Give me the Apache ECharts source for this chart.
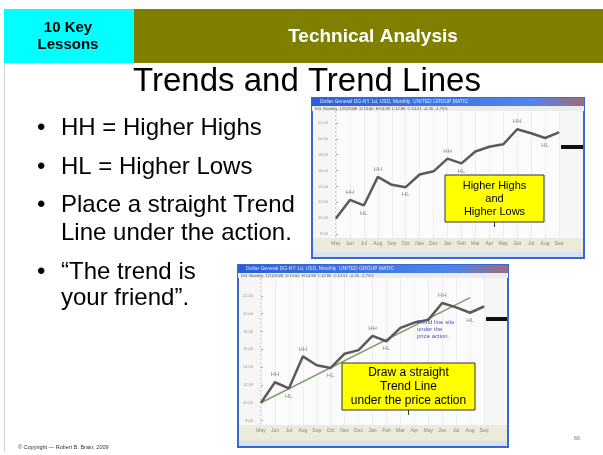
<!DOCTYPE html>
<html>
<head>
<meta charset="utf-8">
<script src="https://cdn.jsdelivr.net/npm/echarts@6/dist/echarts.min.js"></script>
<style>
  html, body { margin: 0; padding: 0; background: #fff; }
  #slide { width: 603px; height: 455px; }
</style>
</head>
<body>
<div id="slide"></div>
<script>
  // months along the bottom of both screenshots
  var months = ['May', 'Jun', 'Jul', 'Aug', 'Sep', 'Oct', 'Nov', 'Dec', 'Jan', 'Feb', 'Mar', 'Apr', 'May', 'Jun', 'Jul', 'Aug', 'Sep'];
  // monthly closes (same data in both windows)
  var closes = [10.0, 12.3, 11.6, 15.2, 14.2, 13.9, 15.5, 15.9, 17.5, 16.9, 18.4, 19.0, 19.3, 21.2, 20.7, 20.1, 20.8];
  // swing labels on the highs / lows
  var swingLabels = ['', 'HH', 'HL', 'HH', '', 'HL', '', '', 'HH', 'HL', '', '', '', 'HH', '', 'HL', ''];
  // trend line drawn under the lows (two anchor points)
  var trendLine = [10.0, null, null, null, null, null, null, null, null, null, null, null, null, null, null, 21.8, null];

  var chart = echarts.init(document.getElementById('slide'), null, { renderer: 'canvas' });

  function lineData() {
    return closes.map(function (v, i) {
      var lab = swingLabels[i];
      return {
        value: v,
        label: {
          show: lab !== '',
          formatter: lab,
          position: lab === 'HL' ? 'bottom' : 'top',
          distance: 4,
          color: '#8a8a8a',
          fontSize: 6,
          fontFamily: 'Arial'
        }
      };
    });
  }

  // window chrome of a pasted screenshot
  function windowChrome(x, y, w, h, plotL, plotR, plotB, curY) {
    return [
      { type: 'rect', z: 0, shape: { x: x, y: y, width: w, height: h }, style: { fill: '#fbfbfb', stroke: '#3a68d0', lineWidth: 2 } },
      { type: 'rect', z: 1, shape: { x: x, y: y, width: w, height: 8 },
        style: { fill: new echarts.graphic.LinearGradient(0, 0, 1, 0, [{ offset: 0, color: '#2a5ed8' }, { offset: 0.8, color: '#4f86ec' }, { offset: 1, color: '#a06a7a' }]) } },
      { type: 'text', z: 2, style: { x: x + 8, y: y + 4, text: 'Dollar General DG-NY 1d, USD, Monthly  UNITED GROUP MATIC', fontSize: 5, fill: '#dfe8ff', verticalAlign: 'middle', fontFamily: 'Arial' } },
      { type: 'rect', z: 1, shape: { x: x, y: y + 8, width: w, height: 5 }, style: { fill: '#ececec' } },
      { type: 'text', z: 2, style: { x: x + 3, y: y + 10.5, text: 'DG  Monthly  12/1/2008  D:13.60  H:14.98  L:12.86  C:14.51  -0.26  -1.75%', fontSize: 4, fill: '#555', verticalAlign: 'middle', fontFamily: 'Arial' } },
      { type: 'rect', z: 1, shape: { x: x + 1, y: y + 13, width: plotL - x - 1, height: plotB - y - 13 }, style: { fill: '#f6f6f6' } },
      { type: 'rect', z: 1, shape: { x: plotR, y: y + 13, width: x + w - plotR - 1, height: plotB - y - 13 }, style: { fill: '#f6f6f6' } },
      { type: 'line', z: 2, shape: { x1: plotL, y1: y + 13, x2: plotL, y2: plotB }, style: { stroke: '#d9a0b0', lineWidth: 1, lineDash: [2, 2] } },
      { type: 'rect', z: 1, shape: { x: x + 1, y: plotB, width: w - 2, height: y + h - plotB - 6 }, style: { fill: '#ecead8' } },
      { type: 'rect', z: 1, shape: { x: x + 1, y: y + h - 6, width: w - 2, height: 5 }, style: { fill: '#d8e0f4' } },
      { type: 'rect', z: 2, shape: { x: plotR + 1, y: curY - 2, width: x + w - plotR - 2, height: 4 }, style: { fill: '#111' } }
    ];
  }

  function callout(x, y, w, h, lines, fs) {
    return [
      { type: 'rect', z: 20, shape: { x: x, y: y, width: w, height: h }, style: { fill: '#ffff00', stroke: '#333', lineWidth: 1 } },
      { type: 'line', z: 20, shape: { x1: x + w / 2, y1: y + h, x2: x + w / 2, y2: y + h + 5 }, style: { stroke: '#333', lineWidth: 1 } },
      { type: 'text', z: 21, style: { x: x + w / 2, y: y + h / 2, text: lines.join('\n'), fontSize: fs, lineHeight: fs + 2, fill: '#000', align: 'center', verticalAlign: 'middle', fontFamily: 'Arial' } }
    ];
  }

  var bullets = [
    { y: 128, text: 'HH = Higher Highs' },
    { y: 167, text: 'HL = Higher Lows' },
    { y: 205, text: 'Place a straight Trend' },
    { y: 233, text: 'Line under the action.', noDot: true },
    { y: 272, text: '\u201cThe trend is' },
    { y: 298, text: 'your friend\u201d.', noDot: true }
  ];

  var graphics = [
    { type: 'line', shape: { x1: 4.5, y1: 9, x2: 4.5, y2: 452 }, style: { stroke: '#cfcfcf', lineWidth: 1 } },
    { type: 'rect', shape: { x: 4, y: 9, width: 130, height: 54 }, style: { fill: '#00ffff' } },
    { type: 'rect', shape: { x: 134, y: 9, width: 469, height: 54 }, style: { fill: '#808000' } },
    { type: 'text', style: { x: 68, y: 36, text: '10 Key\nLessons', fontSize: 15, lineHeight: 17, fontWeight: 'bold', fill: '#000', align: 'center', verticalAlign: 'middle', fontFamily: 'Arial' } },
    { type: 'text', style: { x: 373, y: 37, text: 'Technical Analysis', fontSize: 19, fontWeight: 'bold', fill: '#fff', align: 'center', verticalAlign: 'middle', fontFamily: 'Arial' } },
    { type: 'text', style: { x: 307, y: 82, text: 'Trends and Trend Lines', fontSize: 33, fill: '#000', align: 'center', verticalAlign: 'middle', fontFamily: 'Arial' } },
    { type: 'text', style: { x: 18, y: 447, text: '\u00a9 Copyright \u2014 Robert B. Brain, 2009', fontSize: 5.5, fill: '#333', verticalAlign: 'middle', fontFamily: 'Arial' } },
    { type: 'text', style: { x: 574, y: 438, text: '66', fontSize: 5.5, fill: '#777', verticalAlign: 'middle', fontFamily: 'Arial' } },
    { type: 'text', z: 15, style: { x: 417, y: 329, text: 'Trend line sits\nunder the\nprice action.', fontSize: 6, lineHeight: 7, fill: '#5050c0', verticalAlign: 'middle', fontFamily: 'Arial' } }
  ];
  bullets.forEach(function (b) {
    if (!b.noDot) {
      graphics.push({ type: 'text', style: { x: 37, y: b.y, text: '\u2022', fontSize: 24, fill: '#000', verticalAlign: 'middle', fontFamily: 'Arial' } });
    }
    graphics.push({ type: 'text', style: { x: 61, y: b.y, text: b.text, fontSize: 24, fill: '#000', verticalAlign: 'middle', fontFamily: 'Arial' } });
  });
  graphics = graphics
    .concat(windowChrome(312, 98, 272, 160, 336, 560, 238, 147))
    .concat(windowChrome(238, 265, 270, 182, 261, 485, 425, 319))
    .concat(callout(445, 175, 99, 47, ['Higher Highs', 'and', 'Higher Lows'], 11))
    .concat(callout(342, 363, 133, 47, ['Draw a straight', 'Trend Line', 'under the price action'], 12));

  function xAxisCfg(gi) {
    return {
      type: 'category', gridIndex: gi, data: months, boundaryGap: false, z: 5,
      axisLine: { show: false }, axisTick: { show: false },
      axisLabel: { fontSize: 5, color: '#888', margin: 3, interval: 0, fontFamily: 'Arial' },
      splitLine: { show: true, lineStyle: { color: '#eeeeee', width: 1 } }
    };
  }
  function yAxisCfg(gi, max) {
    return {
      type: 'value', gridIndex: gi, min: 7.5, max: max, splitNumber: 8, z: 5,
      axisLine: { show: false },
      axisTick: { show: true, inside: true, length: 2, lineStyle: { color: '#aaa' } },
      axisLabel: { fontSize: 4, color: '#999', margin: 8, fontFamily: 'Arial', showMinLabel: false, showMaxLabel: false,
        formatter: function (v) { return v.toFixed(2); } },
      splitLine: { show: false }
    };
  }

  chart.setOption({
    animation: false,
    backgroundColor: '#fff',
    grid: [
      { left: 336, top: 111, width: 223, height: 127 },
      { left: 261, top: 278, width: 223, height: 147 }
    ],
    xAxis: [xAxisCfg(0), xAxisCfg(1)],
    yAxis: [yAxisCfg(0, 23.5), yAxisCfg(1, 24)],
    graphic: { elements: graphics },
    series: [
      {
        name: 'Close 1', type: 'line', xAxisIndex: 0, yAxisIndex: 0, z: 10,
        data: lineData(), symbol: 'circle', showSymbol: true, symbolSize: 1,
        itemStyle: { color: '#5a5a5a' },
        lineStyle: { color: '#5a5a5a', width: 2.5 }
      },
      {
        name: 'Trend', type: 'line', xAxisIndex: 1, yAxisIndex: 1, z: 9,
        data: trendLine, connectNulls: true, symbol: 'none',
        lineStyle: { color: '#7f9f6a', width: 1.5 }
      },
      {
        name: 'Close 2', type: 'line', xAxisIndex: 1, yAxisIndex: 1, z: 10,
        data: lineData(), symbol: 'circle', showSymbol: true, symbolSize: 1,
        itemStyle: { color: '#5a5a5a' },
        lineStyle: { color: '#5a5a5a', width: 2.5 }
      }
    ]
  });
</script>
</body>
</html>
